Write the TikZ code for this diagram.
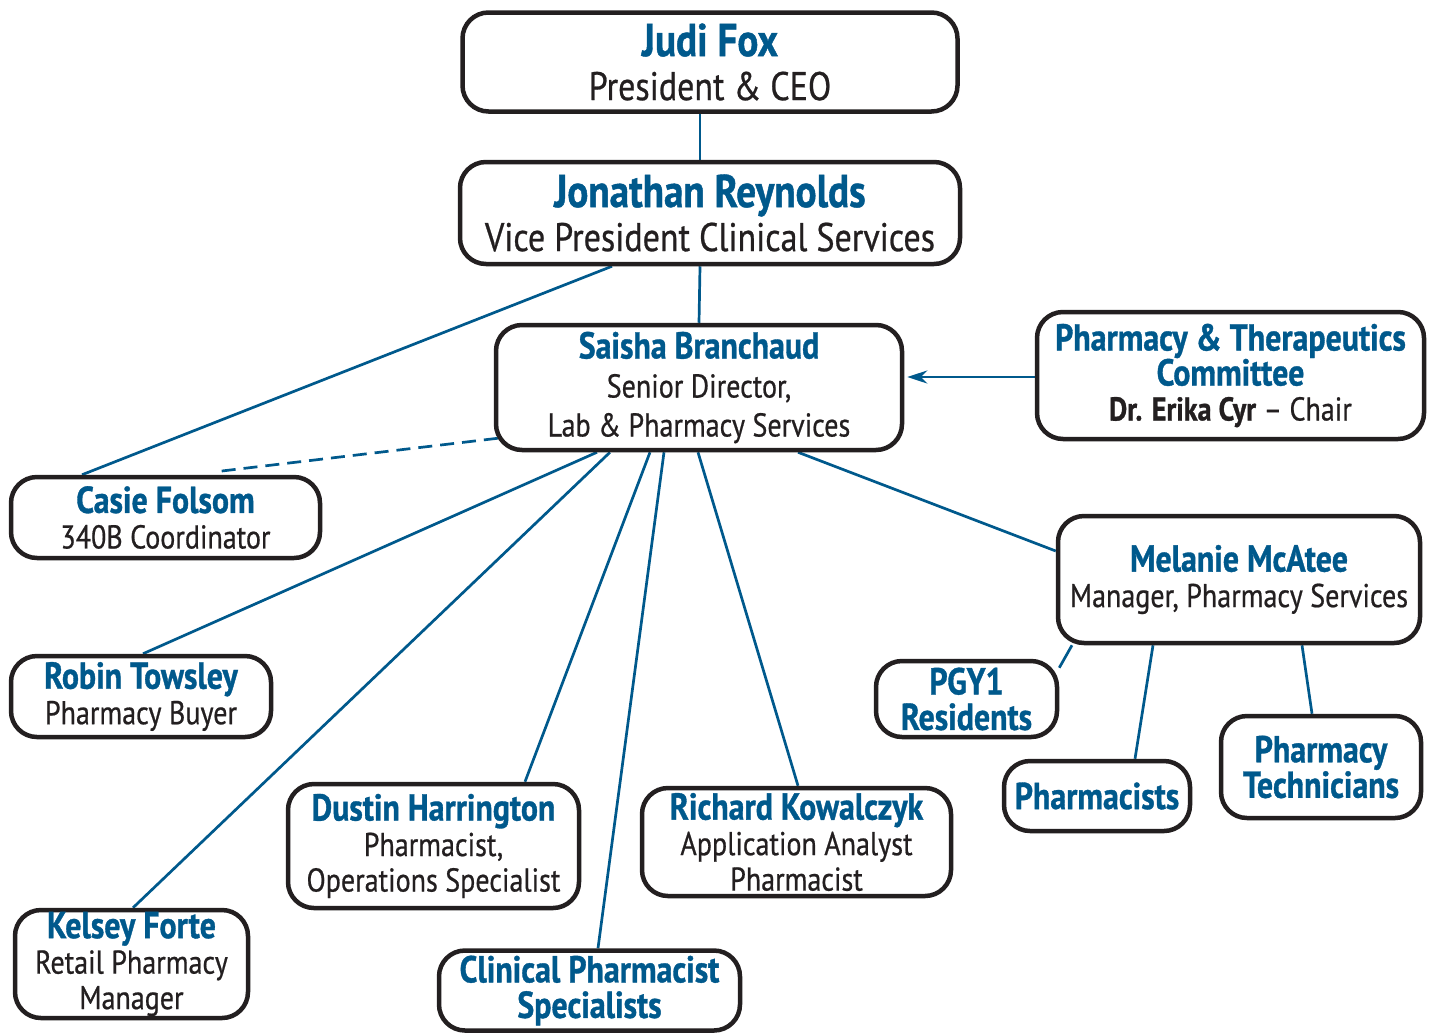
\documentclass[tikz,border=0pt]{standalone}
\usepackage{fontspec}
\setmainfont{PT Sans}[FakeStretch=0.85, UprightFeatures={FakeBold=0.6}, BoldFeatures={FakeBold=0.9}]
\usetikzlibrary{arrows.meta,calc,backgrounds}
\definecolor{nblue}{RGB}{0,89,140}
\definecolor{boxline}{RGB}{35,31,32}
\newcommand{\nmA}[1]{{\fontsize{46}{46}\selectfont\bfseries\color{nblue}#1}}
\newcommand{\nmB}[1]{{\fontsize{37.5}{37.5}\selectfont\bfseries\color{nblue}#1}}
\tikzset{
  orgbox/.style={draw=boxline, line width=4.5pt, rounded corners=26pt, fill=white,
    align=center, inner sep=0pt, text=boxline},
  bigtxt/.style={font=\fontsize{40}{44}\selectfont},
  midtxt/.style={font=\fontsize{33}{35.5}\selectfont},
  link/.style={draw=nblue, line width=2.7pt},
}
\begin{document}
\begin{tikzpicture}[x=1pt,y=-1pt]
\useasboundingbox (0,0) rectangle (1434,1034);
\node[orgbox,bigtxt,minimum width=495pt,minimum height=99pt] (judi) at (710,62) {\nmA{Judi Fox}\\President \& CEO};
\node[orgbox,bigtxt,minimum width=500pt,minimum height=102pt] (jon) at (710,213) {\nmA{Jonathan Reynolds}\\Vice President Clinical Services};
\node[orgbox,midtxt,minimum width=406pt,minimum height=125pt,font=\fontsize{33}{39}\selectfont] (sai) at (699,387.5) {\nmB{Saisha Branchaud}\\Senior Director,\\Lab \& Pharmacy Services};
\node[orgbox,midtxt,minimum width=387pt,minimum height=127pt,font=\fontsize{33}{35}\selectfont] (pt) at (1230.5,375.5) {\nmB{Pharmacy \& Therapeutics}\\\nmB{Committee}\\{\bfseries Dr. Erika Cyr} -- Chair};
\node[orgbox,midtxt,minimum width=309pt,minimum height=81pt] (casie) at (165.5,517.5) {\nmB{Casie Folsom}\\340B Coordinator};
\node[orgbox,midtxt,minimum width=362pt,minimum height=127pt] (mel) at (1239,579.5) {\nmB{Melanie McAtee}\\Manager, Pharmacy Services};
\node[orgbox,midtxt,minimum width=260pt,minimum height=81pt] (robin) at (141,696.5) {\nmB{Robin Towsley}\\Pharmacy Buyer};
\node[orgbox,midtxt,minimum width=181pt,minimum height=76pt] (pgy) at (966.5,699) {\nmB{PGY1}\\\nmB{Residents}};
\node[orgbox,midtxt,minimum width=186pt,minimum height=70pt] (phm) at (1097,796) {\nmB{Pharmacists}};
\node[orgbox,midtxt,minimum width=200pt,minimum height=102pt] (tech) at (1321,767) {\nmB{Pharmacy}\\\nmB{Technicians}};
\node[orgbox,midtxt,minimum width=291pt,minimum height=124pt] (dustin) at (433.5,846) {\nmB{Dustin Harrington}\\Pharmacist,\\Operations Specialist};
\node[orgbox,midtxt,minimum width=309pt,minimum height=108pt] (rich) at (796.5,842) {\nmB{Richard Kowalczyk}\\Application Analyst\\Pharmacist};
\node[orgbox,midtxt,minimum width=233pt,minimum height=108pt] (kelsey) at (131.5,964) {\nmB{Kelsey Forte}\\Retail Pharmacy\\Manager};
\node[orgbox,midtxt,minimum width=301pt,minimum height=80pt] (clin) at (589.5,990.5) {\nmB{Clinical Pharmacist}\\\nmB{Specialists}};
\begin{scope}[on background layer]
\draw[link] ($(judi.south)+(-10,0)$) -- ($(jon.north)+(-10,0)$);
\draw[link] ($(jon.south)+(-10,0)$) -- ($(sai.north)+(0,0)$);
\draw[link] ($(jon.south)+(-98,0)$) -- ($(casie.north)+(-83.5,0)$);
\draw[link,dash pattern=on 14pt off 8pt] ($(sai.south west)+(4,-14)$) -- ($(casie.north)+(50,-3)$);
\draw[link,-{Stealth[length=20pt,width=13pt]}] ($(pt.west)+(0,1.5)$) -- ($(sai.east)+(3,-10.5)$);
\draw[link] ($(sai.south)+(-102,0)$) -- ($(robin.north)+(2,0)$);
\draw[link] ($(sai.south)+(-89,0)$) -- ($(kelsey.north)+(1.5,0)$);
\draw[link] ($(sai.south)+(-49,0)$) -- ($(dustin.north)+(91.5,0)$);
\draw[link] ($(sai.south)+(-35,0)$) -- ($(clin.north)+(8.5,0)$);
\draw[link] ($(sai.south)+(-1,0)$) -- ($(rich.north)+(1.5,0)$);
\draw[link] ($(sai.south)+(99,0)$) -- ($(mel.west)+(0,-28.5)$);
\draw[link] ($(mel.south)+(-167,0)$) -- ($(pgy.north east)+(0,9)$);
\draw[link] ($(mel.south)+(-86,0)$) -- ($(phm.north)+(38,0)$);
\draw[link] ($(mel.south)+(63,0)$) -- ($(tech.north)+(-9,0)$);
\end{scope}
\end{tikzpicture}
\end{document}
